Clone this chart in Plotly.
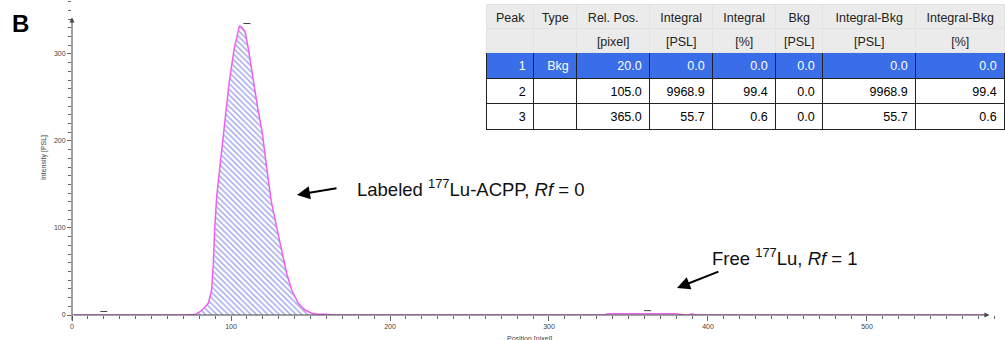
import plotly.graph_objects as go
import numpy as np

# ---------------- data ----------------
position = [0, 20, 60, 73, 78, 80.5, 83, 85.7, 87.8, 88.9, 89.7, 91, 92.7, 94.5, 96.6,
            98.9, 102, 104, 105.3, 106.5, 108.8, 110.9, 114, 116.8, 118.2, 119.7, 122.4,
            125.2, 128.7, 131.9, 135, 138.2, 142.3, 146.5, 150.7, 155, 160, 163, 200,
            335, 337, 350, 360, 370, 380, 385, 388, 390, 392, 395, 575]
intensity = [0, 0, 0, 0, 1, 3.8, 8, 13.4, 28.7, 59.4, 97.7, 136, 165, 192, 230,
             268, 306, 322, 332, 331, 326, 306, 268, 238, 224, 209, 170,
             132, 101, 75, 48, 28.7, 13.4, 5.7, 2, 1, 1, 0, 0,
             0, 1.5, 1.5, 1.5, 1.5, 1.5, 0, 0, 1.5, 0, 0, 0]

peak_marker_pos = [20, 110, 362]
peak_marker_val = [4, 335, 5]

header_line1 = ["Peak", "Type", "Rel. Pos.", "Integral", "Integral", "Bkg", "Integral-Bkg", "Integral-Bkg"]
header_line2 = ["", "", "[pixel]", "[PSL]", "[%]", "[PSL]", "[PSL]", "[%]"]
col_peak = ["1", "2", "3"]
col_type = ["Bkg", "", ""]
col_relpos = ["20.0", "105.0", "365.0"]
col_integral = ["0.0", "9968.9", "55.7"]
col_integral_pct = ["0.0", "99.4", "0.6"]
col_bkg = ["0.0", "0.0", "0.0"]
col_int_bkg = ["0.0", "9968.9", "55.7"]
col_int_bkg_pct = ["0.0", "99.4", "0.6"]
column_widths = [47, 43, 73, 63, 63, 47, 93, 89]

# ---------------- figure ----------------
FONT = "Liberation Sans, Arial, sans-serif"
pos_arr = np.array(position)
int_arr = np.array(intensity)
mask = (pos_arr >= 78) & (pos_arr <= 163)

fig = go.Figure()

# hatched main peak
fig.add_trace(go.Scatter(
    x=pos_arr[mask], y=int_arr[mask], mode="lines",
    line=dict(width=0, color="rgba(0,0,0,0)"),
    fill="tozeroy", fillcolor="rgba(255,255,255,0)",
    fillpattern=dict(shape="\\", fgcolor="#3848d8", bgcolor="white",
                     size=4, solidity=0.35),
    hoverinfo="skip", showlegend=False))

# profile line
fig.add_trace(go.Scatter(
    x=position, y=intensity, mode="lines",
    line=dict(color="#f060f0", width=1.5),
    showlegend=False, cliponaxis=False))

# peak markers
fig.add_trace(go.Scatter(
    x=peak_marker_pos, y=peak_marker_val, mode="markers",
    marker=dict(symbol="line-ew-open", size=5, color="#444", line=dict(width=1, color="#444")),
    showlegend=False, cliponaxis=False))

# table
header_values = [[a, b] for a, b in zip(header_line1, header_line2)]
cell_fill = [["#3a6de8", "white", "white"] for _ in header_line1]
cell_font = [["white", "black", "black"] for _ in header_line1]
fig.add_trace(go.Table(
    domain=dict(x=[0.4445, 1.0], y=[0.56, 0.985]),
    columnwidth=column_widths,
    header=dict(values=header_values, fill_color="#ebebeb",
                line=dict(color="#e3e3e3", width=1),
                font=dict(family=FONT, size=12.5, color="#222"),
                align="center", height=24),
    cells=dict(values=[col_peak, col_type, col_relpos, col_integral, col_integral_pct,
                       col_bkg, col_int_bkg, col_int_bkg_pct],
               fill_color=cell_fill,
               font=dict(family=FONT, size=12.5, color=cell_font),
               line=dict(color="#222", width=1),
               align="right", height=25.5)))

axis_color = "#666"
fig.update_xaxes(range=[0, 586.8], showline=False, zeroline=False, showgrid=False,
                 tickmode="linear", tick0=0, dtick=100, ticks="outside", ticklen=5,
                 tickcolor=axis_color, tickwidth=1,
                 tickfont=dict(family=FONT, size=7, color="#444"),
                 minor=dict(dtick=10, ticks="outside", ticklen=3, tickcolor=axis_color, tickwidth=1))
fig.update_yaxes(range=[0, 362], showline=False, zeroline=False, showgrid=False,
                 tickmode="linear", tick0=0, dtick=100, ticks="outside", ticklen=4,
                 tickcolor=axis_color, tickwidth=1,
                 tickfont=dict(family=FONT, size=7, color="#444"),
                 title=dict(text="Intensity [PSL]", font=dict(family=FONT, size=7, color="#444"),
                            standoff=6),
                 minor=dict(dtick=10, ticks="outside", ticklen=3, tickcolor=axis_color, tickwidth=1))

# axis arrows
fig.add_annotation(x=577, y=0, ax=0, ay=0, xref="x", yref="y", axref="x", ayref="y",
                   text="", showarrow=True, arrowhead=2, arrowsize=1, arrowwidth=1,
                   arrowcolor="#444")
fig.add_annotation(x=0, y=342, ax=0, ay=-8, xref="x", yref="y", axref="x", ayref="y",
                   text="", showarrow=True, arrowhead=2, arrowsize=1, arrowwidth=1,
                   arrowcolor="#444")

# x title (cut off at the bottom like the reference)
fig.add_annotation(x=0.49, y=-0.058, xref="paper", yref="paper", xanchor="center", yanchor="top",
                   text="Position [pixel]", showarrow=False,
                   font=dict(family=FONT, size=7, color="#444"))

# panel letter
fig.add_annotation(x=-0.055, y=0.925, xref="paper", yref="paper", xanchor="center", yanchor="middle",
                   text="<b>B</b>", showarrow=False, font=dict(family=FONT, size=24, color="black"))

# labels and arrows
fig.add_annotation(x=178, y=146, xref="x", yref="y", xanchor="left", yanchor="middle",
                   text="Labeled <sup>177</sup>Lu-ACPP, <i>Rf</i> = 0", showarrow=False,
                   font=dict(family=FONT, size=18.5, color="#111"))
fig.add_annotation(x=141.5, y=138, ax=167.3, ay=146, xref="x", yref="y", axref="x", ayref="y",
                   text="", showarrow=True, arrowhead=2, arrowsize=1.3, arrowwidth=2,
                   arrowcolor="black")
fig.add_annotation(x=401, y=66.7, xref="x", yref="y", xanchor="left", yanchor="middle",
                   text="Free <sup>177</sup>Lu, <i>Rf</i> = 1", showarrow=False,
                   font=dict(family=FONT, size=18.5, color="#111"))
fig.add_annotation(x=380.5, y=31, ax=407.5, ay=50.6, xref="x", yref="y", axref="x", ayref="y",
                   text="", showarrow=True, arrowhead=2, arrowsize=1.3, arrowwidth=2,
                   arrowcolor="black")

fig.update_layout(width=1005, height=340, margin=dict(l=72, r=0, t=0, b=25),
                  paper_bgcolor="white", plot_bgcolor="white",
                  font=dict(family=FONT))

fig.write_html("out.html", config={"displayModeBar": False},
               post_script="document.body.style.margin='0px';")
